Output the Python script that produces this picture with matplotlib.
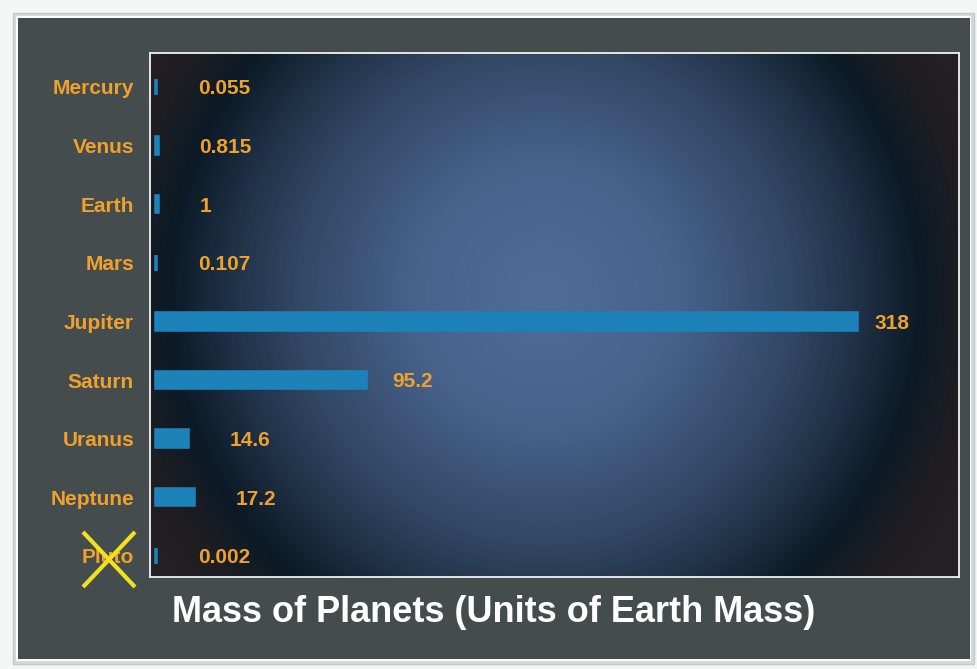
import numpy as np
import matplotlib
matplotlib.use("Agg")
import matplotlib.pyplot as plt
from matplotlib.colors import LinearSegmentedColormap
from matplotlib.patches import Rectangle
from matplotlib.lines import Line2D

planets = ["Mercury", "Venus", "Earth", "Mars", "Jupiter", "Saturn", "Uranus", "Neptune", "Pluto"]
masses = [0.055, 0.815, 1, 0.107, 318, 95.2, 14.6, 17.2, 0.002]
title = "Mass of Planets (Units of Earth Mass)"

W, H = 977, 669
DPI = 100
fig = plt.figure(figsize=(W / DPI, H / DPI), dpi=DPI)
fig.patch.set_facecolor("#f4f5f5")

def px_rect(x0, y0, x1, y1, **kw):
    # image pixel coords (top-left origin) -> figure fraction
    return Rectangle((x0 / W, 1 - y1 / H), (x1 - x0) / W, (y1 - y0) / H,
                     transform=fig.transFigure, **kw)

# outer panel with light border
fig.patches.append(px_rect(13, 13, 974, 664, facecolor="#d6d9d9", edgecolor="#c4c8c8", lw=1.0, zorder=-3))
fig.patches.append(px_rect(16, 16, 971, 661, facecolor="#ffffff", edgecolor="none", zorder=-2))
fig.patches.append(px_rect(18, 18, 970, 659, facecolor="#454c4d", edgecolor="none", zorder=-1))

# axes placement
ax_l, ax_t, ax_r, ax_b = 150, 53, 959, 577
ax = fig.add_axes([ax_l / W, 1 - ax_b / H, (ax_r - ax_l) / W, (ax_b - ax_t) / H])
ax.set_zorder(1)

# radial gradient background
aw, ah = ax_r - ax_l, ax_b - ax_t
xx, yy = np.meshgrid(np.arange(aw) + 0.5, np.arange(ah) + 0.5)
cx, cy = 545 - ax_l, 295 - ax_t
r = np.sqrt((xx - cx) ** 2 + (yy - cy) ** 2) / 375.0
RMAX = 1.6
stops = [(0.0, "#526c9a"), (0.35, "#48628c"), (0.66, "#324764"), (0.85, "#1f3045"),
         (1.0, "#0b1a26"), (1.12, "#1d1d23"), (1.22, "#241f22"), (RMAX, "#241f22")]
cmap = LinearSegmentedColormap.from_list("bg", [(s / RMAX, c) for s, c in stops])
ax.imshow(np.clip(r / RMAX, 0, 1), cmap=cmap, vmin=0, vmax=1, aspect="auto",
          extent=(0, 1, 0, 1), transform=ax.transAxes, zorder=0, interpolation="bilinear")

y = np.arange(len(planets))
bar_col = "#1c82b8"
ax.barh(y, masses, height=0.28, color=bar_col, edgecolor=bar_col, linewidth=2.6, zorder=2)

ax.set_xlim(-2.6, 364)
ax.set_ylim(8.36, -0.58)

orange = "#eea22c"
for yi, v in zip(y, masses):
    pad_px = 42 if v < 50 else (26 if v < 200 else 17)
    ax.annotate(f"{v:g}", xy=(v, yi), xytext=(pad_px * 0.72, -1.3), textcoords="offset points",
                ha="left", va="center", color=orange, fontsize=15, fontweight="bold",
                family=["Liberation Sans", "DejaVu Sans"], zorder=3)

ax.set_xticks([])
ax.set_yticks(y, labels=planets)
ax.tick_params(axis="y", length=0, pad=11.5)
for lab in ax.get_yticklabels():
    lab.set_color(orange)
    lab.set_fontsize(15)
    lab.set_fontweight("bold")
    lab.set_family(["Liberation Sans", "DejaVu Sans"])

for s in ax.spines.values():
    s.set_color("#f2f2f2")
    s.set_linewidth(1.3)

# yellow cross over Pluto
xc = "#f2e11c"
for (x0, y0, x1, y1) in [(83, 532, 135, 587), (83, 587, 135, 532)]:
    fig.lines.append(Line2D([x0 / W, x1 / W], [1 - y0 / H, 1 - y1 / H], transform=fig.transFigure,
                            color=xc, lw=3.0, solid_capstyle="butt", zorder=5))

fig.text(494 / W, 1 - 612 / H, title, ha="center", va="center", color="white",
         fontsize=26, fontweight="bold", family=["Liberation Sans", "DejaVu Sans"], zorder=5)

fig.savefig("out.png", dpi=DPI, facecolor=fig.get_facecolor())
